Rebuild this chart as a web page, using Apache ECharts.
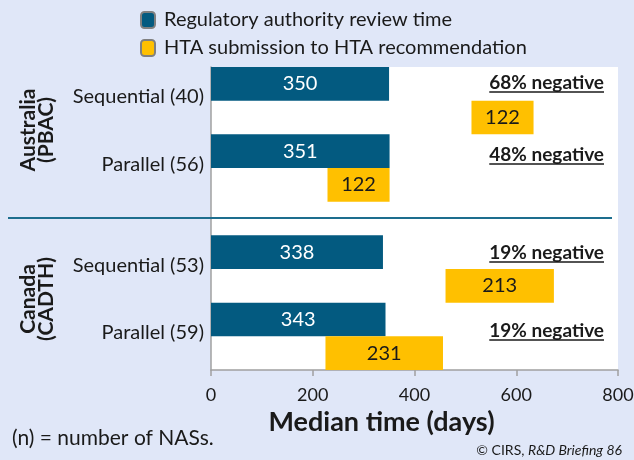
<!DOCTYPE html>
<html>
<head>
<meta charset="utf-8">
<script src="https://cdn.jsdelivr.net/npm/echarts@6/dist/echarts.min.js"></script>
<style>
  html, body { margin: 0; padding: 0; background: #e0e7f8; }
  #main { width: 634px; height: 460px; }
</style>
</head>
<body>
<div id="main"></div>
<script>
// 数据
var rows = ['Sequential (40)', 'Parallel (56)', 'Sequential (53)', 'Parallel (59)']
var reviewTime = [350, 351, 338, 343]
var htaStart = [512, 229, 461, 225]
var htaTime = [122, 122, 213, 231]
var negative = ['68% negative', '48% negative', '19% negative', '19% negative']
var groups = ['Australia\n(PBAC)', 'Canada\n(CADTH)']
var xTicks = [0, 200, 400, 600, 800]

var font = 'Lato'
var blue = '#035a80'
var yellow = '#ffc000'

// 9 slots: blue / yellow per row, one empty slot between the two countries
var slots = []
var offsetData = []
var blueData = []
var yellowData = []
rows.forEach(function (r, i) {
  if (i == 2) {
    slots.push('gap')
    offsetData.push('-')
    blueData.push('-')
    yellowData.push('-')
  }
  slots.push(r)
  offsetData.push(0)
  blueData.push(reviewTime[i])
  yellowData.push('-')
  slots.push(r + ' hta')
  offsetData.push(htaStart[i])
  blueData.push('-')
  yellowData.push(htaTime[i])
})

// underline widths
var ctx = document.createElement('canvas').getContext('2d')
ctx.font = 'bold 19px ' + font
var noteY = [83, 155, 253, 331]
var graphics = []
negative.forEach(function (t, i) {
  var w = ctx.measureText(t).width
  graphics.push({
    type: 'text', x: 604, y: noteY[i], z: 10,
    style: { text: t, font: 'bold 19px ' + font, fill: '#1a1a1a', align: 'right', verticalAlign: 'middle' }
  })
  graphics.push({
    type: 'line', z: 10,
    shape: { x1: 604 - w, y1: noteY[i] + 9, x2: 604, y2: noteY[i] + 9 },
    style: { stroke: '#1a1a1a', lineWidth: 1.5 }
  })
})
var groupY = [130, 299]
groups.forEach(function (g, i) {
  graphics.push({
    type: 'text', x: 37, y: groupY[i], rotation: Math.PI / 2, z: 10,
    style: {
      text: g, font: 'bold 21px ' + font, fill: '#1a1a1a',
      align: 'center', verticalAlign: 'middle', lineHeight: 18
    }
  })
})
graphics.push({
  type: 'line', z: 10,
  shape: { x1: 8, y1: 218, x2: 612, y2: 218 },
  style: { stroke: '#1d6e8e', lineWidth: 2 }
})
graphics.push({
  type: 'text', x: 12, y: 438,
  style: { text: '(n) = number of NASs.', font: '21px ' + font, fill: '#1a1a1a', verticalAlign: 'middle' }
})
graphics.push({
  type: 'text', x: 622, y: 450,
  style: {
    text: '© CIRS, {i|R&D Briefing 86}', font: '14px ' + font, fill: '#1a1a1a',
    align: 'right', verticalAlign: 'middle',
    rich: { i: { fontStyle: 'italic', fontSize: 14, fontFamily: font } }
  }
})

var chart = echarts.init(document.getElementById('main'))
var option = {
  backgroundColor: '#e0e7f8',
  animation: false,
  textStyle: { fontFamily: font },
  legend: {
    orient: 'vertical',
    left: 135,
    top: 5,
    itemWidth: 14,
    itemHeight: 16,
    itemGap: 8,
    icon: 'roundRect',
    data: ['Regulatory authority review time', 'HTA submission to HTA recommendation'],
    itemStyle: { borderColor: '#808080', borderWidth: 2 },
    textStyle: { fontSize: 20, color: '#1a1a1a', fontFamily: font, padding: [0, 0, 0, 4] }
  },
  grid: {
    left: 211, right: 16, top: 67, bottom: 90,
    show: true, backgroundColor: '#fff', borderWidth: 0,
    outerBoundsMode: 'none'
  },
  xAxis: {
    type: 'value',
    min: xTicks[0],
    max: xTicks[xTicks.length - 1],
    interval: 200,
    axisLine: { show: true, lineStyle: { color: '#a0a0a0', width: 1.5 } },
    axisTick: { show: true, length: 6, lineStyle: { color: '#a0a0a0', width: 1.5 } },
    splitLine: { show: false },
    axisLabel: { fontSize: 18, color: '#1a1a1a', margin: 16, fontFamily: font },
    name: 'Median time (days)',
    nameLocation: 'middle',
    nameGap: 37,
    nameTextStyle: {
      fontSize: 27, fontWeight: 'bold', color: '#1a1a1a', fontFamily: font,
      padding: [0, 66, 0, 0]
    }
  },
  yAxis: {
    type: 'category',
    inverse: true,
    data: slots,
    axisLine: { show: true, lineStyle: { color: '#a0a0a0', width: 1.5 } },
    axisTick: { show: false },
    axisLabel: {
      interval: 0,
      fontSize: 20,
      color: '#1a1a1a',
      margin: 7,
      verticalAlign: 'top',
      lineHeight: 26,
      fontFamily: font,
      formatter: function (v) {
        return rows.indexOf(v) > -1 ? v : ''
      }
    }
  },
  series: [
    {
      name: 'offset',
      type: 'bar',
      stack: 'time',
      silent: true,
      barCategoryGap: '0%',
      itemStyle: { color: 'transparent' },
      data: offsetData
    },
    {
      name: 'Regulatory authority review time',
      type: 'bar',
      stack: 'time',
      barCategoryGap: '0%',
      itemStyle: { color: blue },
      label: { show: true, position: 'inside', color: '#fff', fontSize: 20, fontFamily: font },
      data: blueData
    },
    {
      name: 'HTA submission to HTA recommendation',
      type: 'bar',
      stack: 'time',
      barCategoryGap: '0%',
      itemStyle: { color: yellow },
      label: { show: true, position: 'inside', color: '#1a1a1a', fontSize: 20, fontFamily: font },
      data: yellowData
    }
  ],
  graphic: graphics
}
chart.setOption(option)
</script>
</body>
</html>
